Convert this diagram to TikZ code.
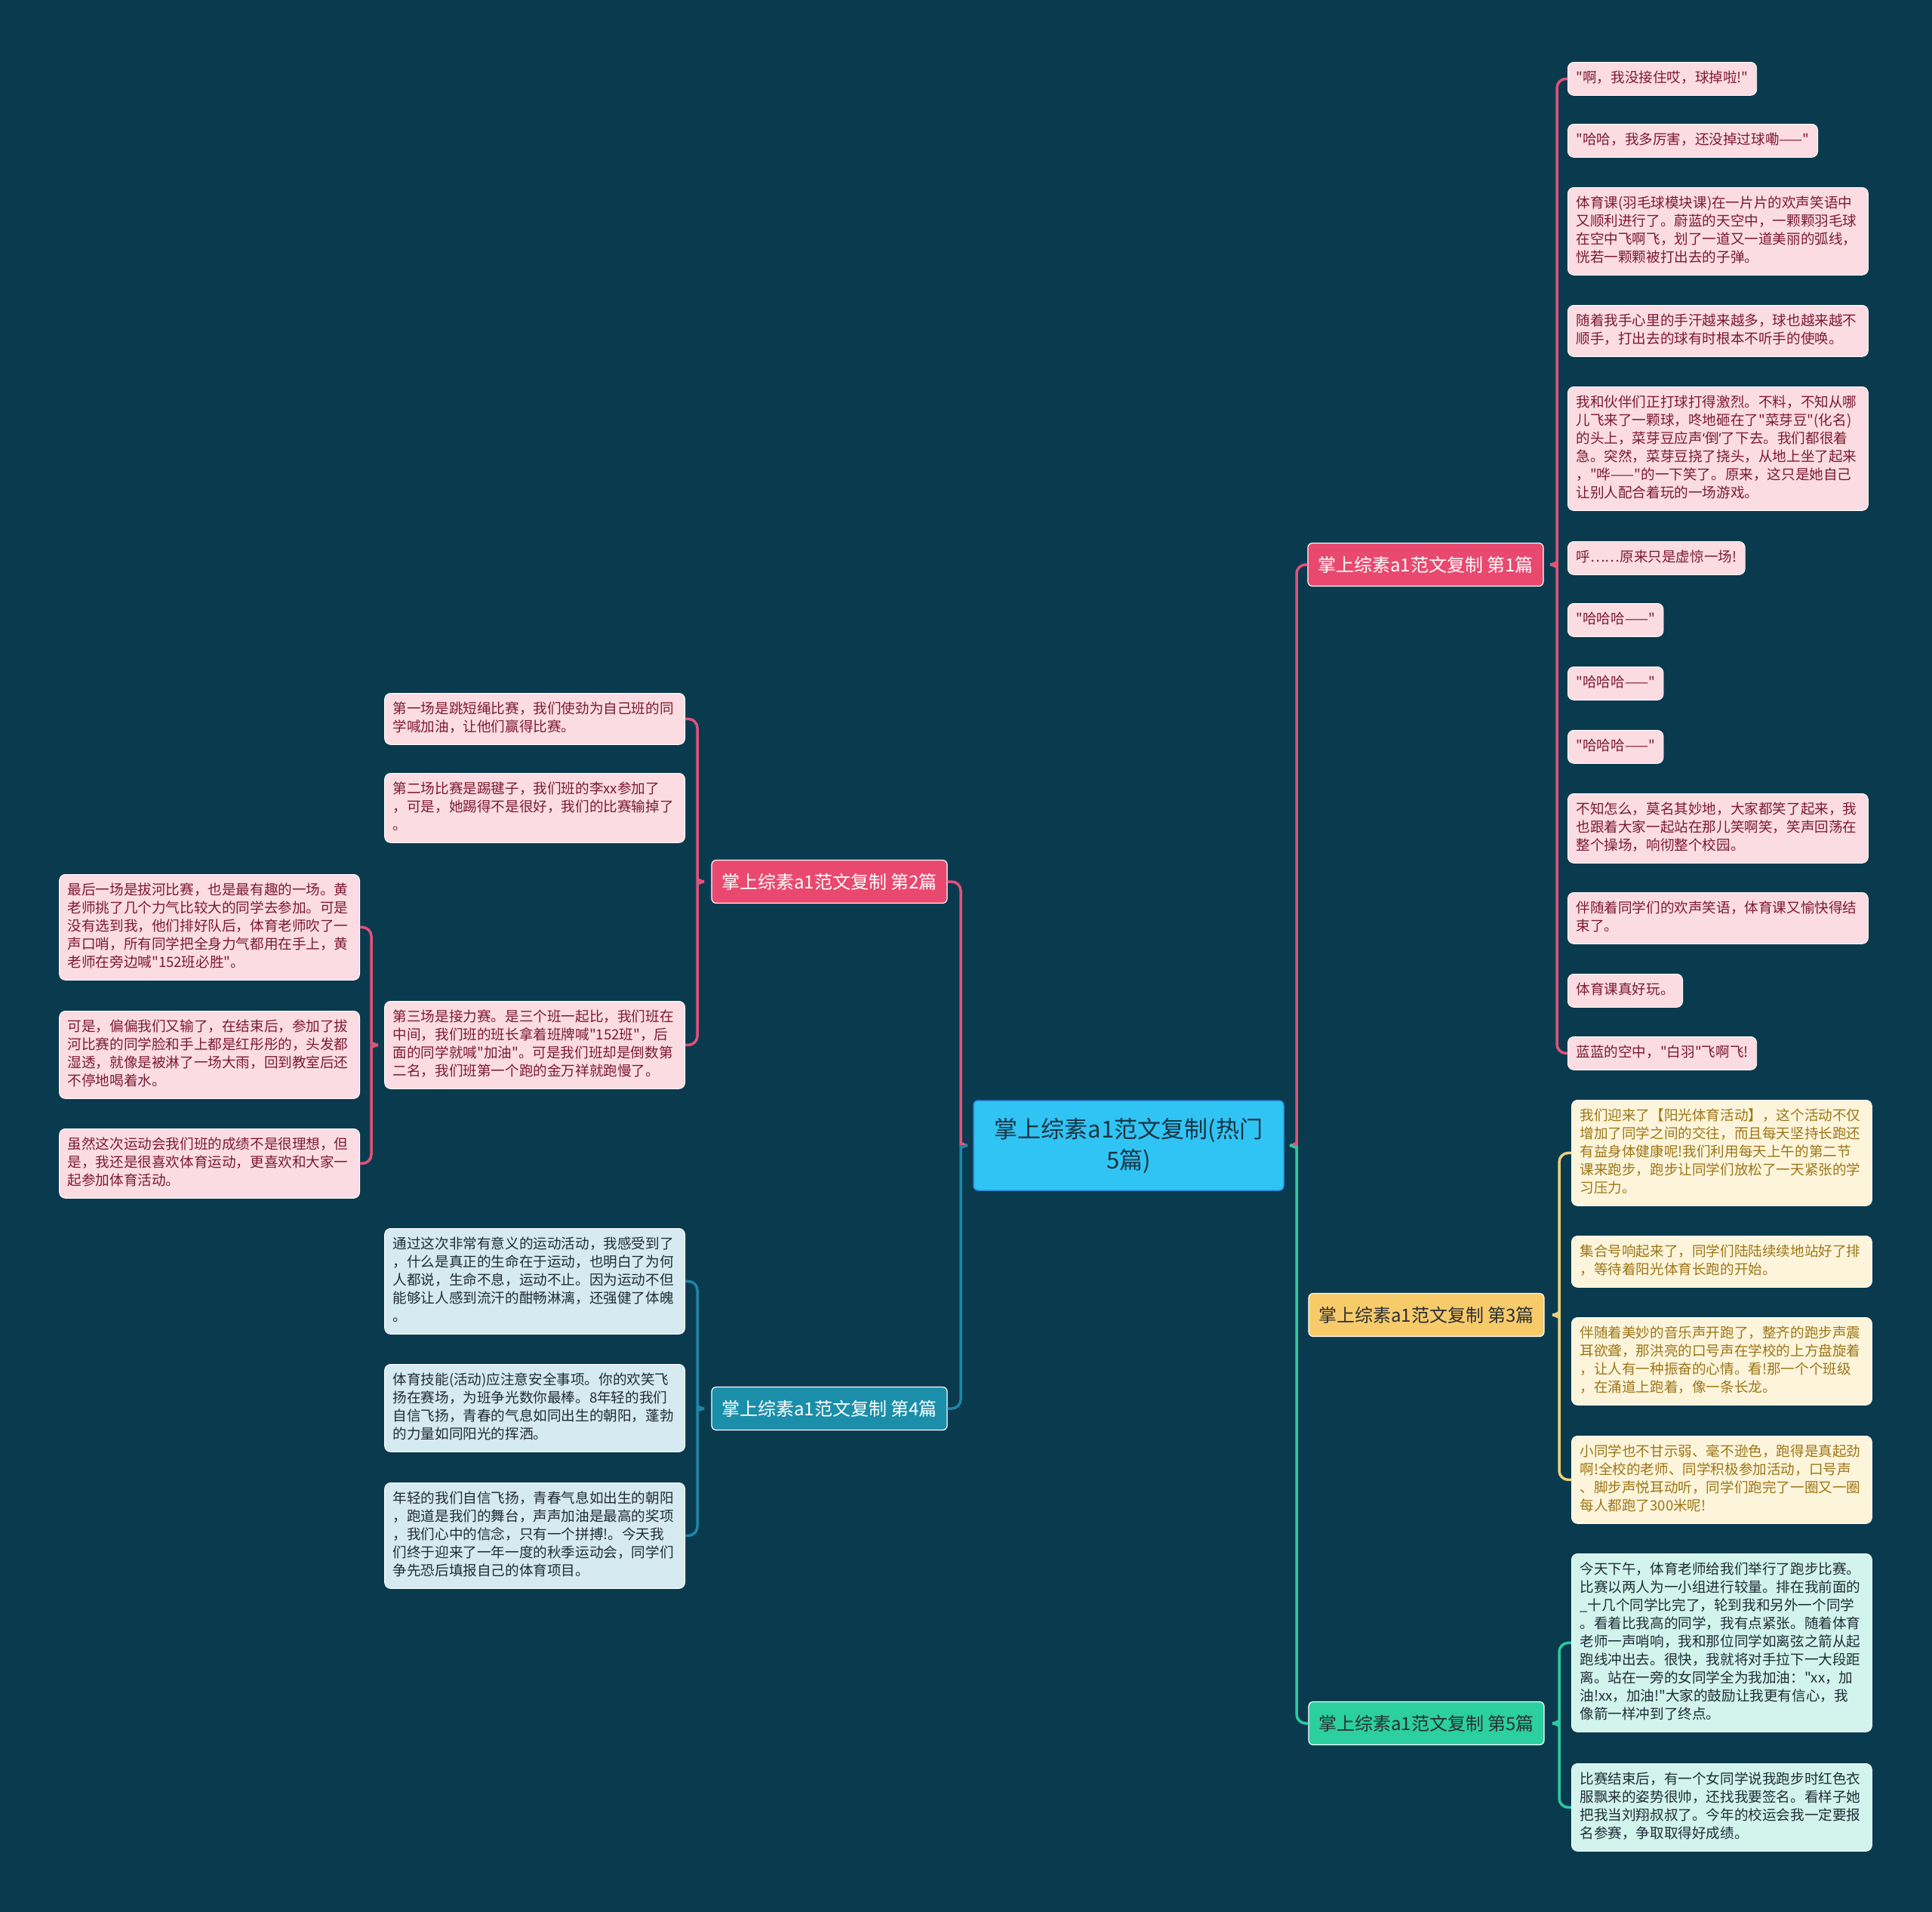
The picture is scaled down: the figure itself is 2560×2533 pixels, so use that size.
\documentclass[tikz,border=0pt]{standalone}
\usepackage{fontspec}
\setmainfont{Noto Sans CJK SC}[Ligatures=TeXOff]
\newfontfamily\latinq{Noto Sans}
\usetikzlibrary{calc}

\definecolor{bgcol}{HTML}{0A3A4E}
\definecolor{rootfill}{HTML}{30C4F4}
\definecolor{rootbd}{HTML}{2A8BD8}
\definecolor{roottx}{HTML}{1A3342}
\definecolor{topred}{HTML}{E9486F}
\definecolor{topyel}{HTML}{F8CB6A}
\definecolor{topteal}{HTML}{1B8EAA}
\definecolor{topgrn}{HTML}{2BCFA0}
\definecolor{darktx}{HTML}{2A2F33}
\definecolor{pinkbg}{HTML}{FBDCE2}
\definecolor{pinktx}{HTML}{7D1A32}
\definecolor{yelbg}{HTML}{FDF5DB}
\definecolor{yeltx}{HTML}{9E7517}
\definecolor{bluebg}{HTML}{D6EAF1}
\definecolor{grnbg}{HTML}{D2F4EC}
\definecolor{leaftx}{HTML}{1F2C36}
\definecolor{lnred}{HTML}{E2527A}
\definecolor{lnyel}{HTML}{EBD07C}
\definecolor{lnteal}{HTML}{1E86A6}
\definecolor{lngrn}{HTML}{2CC99F}

\newcommand{\leaffont}{\fontsize{18.6}{24}\selectfont}
\newcommand{\topicfont}{\fontsize{24}{30}\selectfont}
\newcommand{\rootfont}{\fontsize{31}{41}\selectfont}

% brace, children on the right: top style, bottom style, parent, first child, last child, bar
\newcommand{\brR}[6]{%
  \draw[#1] (#4.west) -- (#6 |- #4.west) -- ($(#6 |- #3.east)+(0,-12)$)
    to[out=-90,in=0] ($(#6 |- #3.east)+(-9,0)$);
  \draw[#2] ($(#6 |- #3.east)+(-9,0)$) to[out=0,in=90] ($(#6 |- #3.east)+(0,12)$)
    -- (#6 |- #5.west) -- (#5.west);}
% brace, children on the left
\newcommand{\brL}[6]{%
  \draw[#1] (#4.east) -- (#6 |- #4.east) -- ($(#6 |- #3.west)+(0,-12)$)
    to[out=-90,in=180] ($(#6 |- #3.west)+(9,0)$);
  \draw[#2] ($(#6 |- #3.west)+(9,0)$) to[out=180,in=90] ($(#6 |- #3.west)+(0,12)$)
    -- (#6 |- #5.east) -- (#5.east);}

\begin{document}
\begin{tikzpicture}[x=1pt, y=-1pt,
  box/.style={rounded corners=8pt, inner xsep=11pt, inner ysep=10pt, draw=white, line width=0.8pt,
    font=\leaffont, align=left, execute at begin node=\strut, execute at end node=\strut},
  widebox/.style={text width=376pt},
  leafp/.style={box, fill=pinkbg, text=pinktx},
  leafy/.style={box, fill=yelbg, text=yeltx},
  leafb/.style={box, fill=bluebg, text=leaftx},
  leafg/.style={box, fill=grnbg, text=leaftx},
  topic/.style={rounded corners=6pt, draw=white, line width=1.2pt, font=\topicfont,
    minimum width=312pt, minimum height=57pt, inner sep=2pt},
  rootbox/.style={rounded corners=6pt, fill=rootfill, draw=rootbd, line width=1.5pt, text=roottx,
    font=\rootfont, align=center, minimum width=411pt, minimum height=119pt},
  ln/.style={line width=3.5pt, rounded corners=12pt},
  red/.style={ln, lnred}, yel/.style={ln, lnyel}, teal/.style={ln, lnteal}, grn/.style={ln, lngrn}]

  \useasboundingbox (0,0) rectangle (2560,2533);
  \fill[bgcol] (0,0) rectangle (2560,2533);

  % root and topics
  \node[rootbox] (root) at (1495.5,1517.5) {掌上综素a1范文复制(热门\\5篇)};
  \node[topic, fill=topred, text=white] (t1) at (1889,748) {掌上综素a1范文复制 第1篇};
  \node[topic, fill=topred, text=white] (t2) at (1099,1168) {掌上综素a1范文复制 第2篇};
  \node[topic, fill=topyel, text=darktx] (t3) at (1890,1742) {掌上综素a1范文复制 第3篇};
  \node[topic, fill=topteal, text=white] (t4) at (1099,1866) {掌上综素a1范文复制 第4篇};
  \node[topic, fill=topgrn, text=darktx] (t5) at (1890,2283) {掌上综素a1范文复制 第5篇};

  % topic 1
  \node[leafp, anchor=north west] (a1) at (2077,82) {"啊，我没接住哎，球掉啦!"};
  \node[leafp, anchor=north west] (a2) at (2077,164) {"哈哈，我多厉害，还没掉过球嘞——"};
  \node[leafp, widebox, anchor=north west] (a3) at (2077,248) {体育课(羽毛球模块课)在一片片的欢声笑语中\\又顺利进行了。蔚蓝的天空中，一颗颗羽毛球\\在空中飞啊飞，划了一道又一道美丽的弧线，\\恍若一颗颗被打出去的子弹。};
  \node[leafp, widebox, anchor=north west] (a4) at (2077,404) {随着我手心里的手汗越来越多，球也越来越不\\顺手，打出去的球有时根本不听手的使唤。};
  \node[leafp, widebox, anchor=north west] (a5) at (2077,512) {我和伙伴们正打球打得激烈。不料，不知从哪\\儿飞来了一颗球，咚地砸在了"菜芽豆"(化名)\\的头上，菜芽豆应声{\latinq ‘}倒{\latinq ’}了下去。我们都很着\\急。突然，菜芽豆挠了挠头，从地上坐了起来\\，"哗——"的一下笑了。原来，这只是她自己\\让别人配合着玩的一场游戏。};
  \node[leafp, anchor=north west] (a6) at (2077,717) {呼……原来只是虚惊一场!};
  \node[leafp, anchor=north west] (a7) at (2077,799) {"哈哈哈——"};
  \node[leafp, anchor=north west] (a8) at (2077,883) {"哈哈哈——"};
  \node[leafp, anchor=north west] (a9) at (2077,967) {"哈哈哈——"};
  \node[leafp, widebox, anchor=north west] (a10) at (2077,1051) {不知怎么，莫名其妙地，大家都笑了起来，我\\也跟着大家一起站在那儿笑啊笑，笑声回荡在\\整个操场，响彻整个校园。};
  \node[leafp, widebox, anchor=north west] (a11) at (2077,1182) {伴随着同学们的欢声笑语，体育课又愉快得结\\束了。};
  \node[leafp, anchor=north west] (a12) at (2077,1290) {体育课真好玩。};
  \node[leafp, anchor=north west] (a13) at (2077,1373) {蓝蓝的空中，"白羽"飞啊飞!};

  % topic 2
  \node[leafp, widebox, anchor=north east] (b1) at (908,918) {第一场是跳短绳比赛，我们使劲为自己班的同\\学喊加油，让他们赢得比赛。};
  \node[leafp, widebox, anchor=north east] (b2) at (908,1024) {第二场比赛是踢毽子，我们班的李xx参加了\\，可是，她踢得不是很好，我们的比赛输掉了\\。};
  \node[leafp, widebox, anchor=north east] (b3) at (908,1326) {第三场是接力赛。是三个班一起比，我们班在\\中间，我们班的班长拿着班牌喊"152班"，后\\面的同学就喊"加油"。可是我们班却是倒数第\\二名，我们班第一个跑的金万祥就跑慢了。};
  \node[leafp, widebox, anchor=north east] (c1) at (477,1158) {最后一场是拔河比赛，也是最有趣的一场。黄\\老师挑了几个力气比较大的同学去参加。可是\\没有选到我，他们排好队后，体育老师吹了一\\声口哨，所有同学把全身力气都用在手上，黄\\老师在旁边喊"152班必胜"。};
  \node[leafp, widebox, anchor=north east] (c2) at (477,1339) {可是，偏偏我们又输了，在结束后，参加了拔\\河比赛的同学脸和手上都是红彤彤的，头发都\\湿透，就像是被淋了一场大雨，回到教室后还\\不停地喝着水。};
  \node[leafp, widebox, anchor=north east] (c3) at (477,1495) {虽然这次运动会我们班的成绩不是很理想，但\\是，我还是很喜欢体育运动，更喜欢和大家一\\起参加体育活动。};

  % topic 3
  \node[leafy, widebox, anchor=north west] (d1) at (2082,1457) {我们迎来了【阳光体育活动】，这个活动不仅\\增加了同学之间的交往，而且每天坚持长跑还\\有益身体健康呢!我们利用每天上午的第二节\\课来跑步，跑步让同学们放松了一天紧张的学\\习压力。};
  \node[leafy, widebox, anchor=north west] (d2) at (2082,1637) {集合号响起来了，同学们陆陆续续地站好了排\\，等待着阳光体育长跑的开始。};
  \node[leafy, widebox, anchor=north west] (d3) at (2082,1745) {伴随着美妙的音乐声开跑了，整齐的跑步声震\\耳欲聋，那洪亮的口号声在学校的上方盘旋着\\，让人有一种振奋的心情。看!那一个个班级\\，在涌道上跑着，像一条长龙。};
  \node[leafy, widebox, anchor=north west] (d4) at (2082,1902) {小同学也不甘示弱、毫不逊色，跑得是真起劲\\啊!全校的老师、同学积极参加活动，口号声\\、脚步声悦耳动听，同学们跑完了一圈又一圈\\每人都跑了300米呢!};

  % topic 4
  \node[leafb, widebox, anchor=north east] (e1) at (908,1627) {通过这次非常有意义的运动活动，我感受到了\\，什么是真正的生命在于运动，也明白了为何\\人都说，生命不息，运动不止。因为运动不但\\能够让人感到流汗的酣畅淋漓，还强健了体魄\\。};
  \node[leafb, widebox, anchor=north east] (e2) at (908,1807) {体育技能(活动)应注意安全事项。你的欢笑飞\\扬在赛场，为班争光数你最棒。8年轻的我们\\自信飞扬，青春的气息如同出生的朝阳，蓬勃\\的力量如同阳光的挥洒。};
  \node[leafb, widebox, anchor=north east] (e3) at (908,1964) {年轻的我们自信飞扬，青春气息如出生的朝阳\\，跑道是我们的舞台，声声加油是最高的奖项\\，我们心中的信念，只有一个拼搏!。今天我\\们终于迎来了一年一度的秋季运动会，同学们\\争先恐后填报自己的体育项目。};

  % topic 5
  \node[leafg, widebox, anchor=north west] (f1) at (2082,2058) {今天下午，体育老师给我们举行了跑步比赛。\\比赛以两人为一小组进行较量。排在我前面的\\\_十几个同学比完了，轮到我和另外一个同学\\。看着比我高的同学，我有点紧张。随着体育\\老师一声哨响，我和那位同学如离弦之箭从起\\跑线冲出去。很快，我就将对手拉下一大段距\\离。站在一旁的女同学全为我加油："xx，加\\油!xx，加油!"大家的鼓励让我更有信心，我\\像箭一样冲到了终点。};
  \node[leafg, widebox, anchor=north west] (f2) at (2082,2336) {比赛结束后，有一个女同学说我跑步时红色衣\\服飘来的姿势很帅，还找我要签名。看样子她\\把我当刘翔叔叔了。今年的校运会我一定要报\\名参赛，争取取得好成绩。};

  % bars
  \coordinate (br0) at (1718,0);
  \coordinate (bl0) at (1273,0);
  \coordinate (br1) at (2063,0);
  \coordinate (bl2) at (924,0);
  \coordinate (bl2c) at (492,0);
  \coordinate (br3) at (2066,0);
  \coordinate (bl4) at (924,0);
  \coordinate (br5) at (2066,0);

  % braces
  \brR{red}{grn}{root}{t1}{t5}{br0}
  \brL{red}{teal}{root}{t2}{t4}{bl0}
  \brR{red}{red}{t1}{a1}{a13}{br1}
  \brL{red}{red}{t2}{b1}{b3}{bl2}
  \brL{red}{red}{b3}{c1}{c3}{bl2c}
  \brR{yel}{yel}{t3}{d1}{d4}{br3}
  \brL{teal}{teal}{t4}{e1}{e3}{bl4}
  \brR{grn}{grn}{t5}{f1}{f2}{br5}
\end{tikzpicture}
\end{document}
